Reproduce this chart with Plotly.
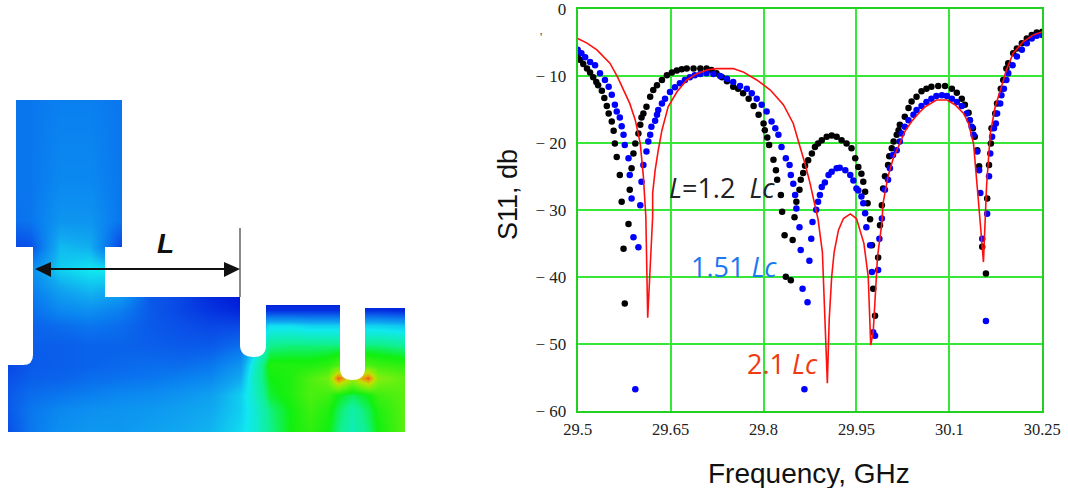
import plotly.graph_objects as go

# ---------- S11 chart data ----------
black_f = [29.500,29.504,29.509,29.515,29.520,29.525,29.530,29.533,29.539,29.543,29.547,29.550,29.555,29.558,29.560,29.563,29.568,29.571,29.574,29.576,
29.582,29.584,29.587,29.590,29.593,29.598,29.601,29.603,29.606,29.611,29.617,29.622,29.628,29.636,29.644,29.652,29.660,29.668,29.676,29.687,29.698,29.708,29.716,29.724,29.733,29.741,29.751,29.759,29.767,29.776,29.784,29.792,29.800,29.802,29.806,29.809,29.816,29.820,29.822,29.828,29.830,29.834,29.836,
29.844,29.847,29.850,29.853,29.858,29.860,29.864,29.867,29.872,29.878,29.883,29.888,29.894,29.902,29.910,29.918,29.926,29.934,29.942,29.948,29.953,29.958,29.961,29.964,29.968,29.972,29.975,29.977,29.980,
29.985,29.988,29.991,29.993,29.996,30.001,30.003,30.007,30.010,30.015,30.018,30.020,30.028,30.034,30.039,30.047,30.055,30.063,30.071,30.082,30.093,30.104,30.112,30.120,30.125,30.131,30.133,30.138,30.141,30.145,30.148,30.153,30.159,
30.161,30.164,30.167,30.168,30.174,30.177,30.183,30.187,30.192,30.195,30.203,30.209,30.217,30.225,30.233,30.241,30.250]
black_s = [-7.1,-7.6,-8.2,-8.9,-9.5,-10.2,-10.9,-11.4,-12.2,-13.3,-14.5,-15.6,-16.8,-18.2,-20.1,-22.1,-24.8,-28.8,-35.8,-44.0,
-32.1,-27.0,-23.8,-21.6,-20.1,-18.6,-17.3,-16.2,-15.6,-14.6,-13.1,-12.1,-11.4,-10.6,-9.9,-9.5,-9.2,-9.0,-8.9,-8.9,-8.9,-8.9,-9.1,-9.6,-10.2,-10.8,-11.6,-11.9,-12.6,-13.4,-14.5,-15.8,-17.1,-18.1,-19.2,-20.3,-22.5,-24.1,-25.5,-27.8,-30.3,-33.8,-40.0,
-40.5,-34.5,-31.1,-28.8,-27.0,-25.5,-24.5,-23.4,-22.6,-21.6,-20.6,-20.1,-19.6,-19.1,-18.9,-19.1,-19.6,-20.1,-20.8,-22.3,-23.6,-24.6,-25.8,-27.3,-29.0,-31.4,-35.3,-41.8,-45.8,
-37.1,-32.3,-29.3,-26.8,-25.0,-23.3,-22.0,-20.8,-19.8,-18.8,-18.1,-17.3,-16.1,-14.8,-13.8,-13.1,-12.3,-11.9,-11.6,-11.5,-11.5,-11.9,-12.5,-13.4,-14.3,-15.5,-16.6,-17.8,-19.1,-21.1,-23.5,-35.5,-39.5,
-28.3,-23.3,-20.1,-17.8,-15.6,-14.1,-11.9,-10.6,-8.9,-8.1,-6.6,-5.9,-5.1,-4.4,-3.9,-3.5,-3.4]

blue_f = [29.500,29.506,29.512,29.520,29.528,29.536,29.544,29.550,29.555,29.560,29.563,29.568,29.571,29.574,29.576,29.582,29.584,29.587,29.590,29.593,
29.598,29.601,29.603,29.606,29.611,29.614,29.617,29.619,29.625,29.628,29.630,29.636,29.641,29.649,29.657,29.665,29.673,29.681,29.689,29.698,29.708,29.719,29.730,29.741,29.751,29.762,29.773,29.781,29.789,29.797,29.805,29.813,29.819,29.824,29.829,29.836,29.842,29.844,29.848,29.851,29.853,29.858,29.860,29.863,29.866,
29.871,29.874,29.877,29.879,29.885,29.888,29.891,29.894,29.899,29.905,29.910,29.918,29.923,29.932,29.940,29.945,29.950,29.953,29.958,29.961,29.964,29.966,29.972,29.975,29.977,29.980,
29.985,29.987,29.991,29.996,30.001,30.004,30.009,30.015,30.020,30.023,30.028,30.034,30.042,30.047,30.055,30.063,30.071,30.079,30.088,30.096,30.104,30.112,30.120,30.128,30.133,30.136,30.139,30.145,30.148,30.150,30.153,30.159,
30.161,30.164,30.166,30.169,30.172,30.175,30.177,30.182,30.184,30.188,30.192,30.195,30.202,30.209,30.217,30.225,30.233,30.241,30.250]
blue_s = [-6.1,-6.6,-7.2,-7.9,-8.4,-9.6,-10.6,-11.6,-12.8,-14.3,-15.3,-16.2,-17.5,-18.8,-20.3,-22.3,-24.8,-28.3,-34.1,-56.8,
-35.6,-29.3,-25.8,-23.3,-21.3,-19.8,-18.8,-17.6,-16.7,-15.8,-15.1,-14.1,-13.4,-12.4,-11.7,-11.1,-10.6,-10.2,-9.9,-9.7,-9.6,-9.7,-10.0,-10.4,-10.9,-11.5,-11.9,-12.6,-13.4,-14.3,-15.3,-16.8,-17.8,-18.8,-20.6,-22.3,-23.3,-24.8,-26.1,-27.8,-29.8,-32.6,-36.0,-41.8,-56.8,
-43.8,-37.6,-34.3,-31.8,-30.0,-28.8,-27.8,-26.6,-25.9,-24.8,-24.3,-23.8,-23.7,-24.1,-24.8,-25.6,-26.8,-27.1,-28.0,-29.0,-30.5,-32.6,-35.3,-39.3,-48.3,-48.8,
-39.0,-34.3,-31.3,-27.0,-25.5,-23.8,-21.8,-21.1,-19.8,-18.6,-17.6,-16.6,-15.8,-15.1,-14.5,-13.9,-13.4,-13.0,-12.9,-13.0,-13.4,-13.9,-14.5,-15.6,-16.6,-17.6,-18.8,-21.3,-24.1,-27.5,-34.3,-46.6,
-30.6,-25.0,-21.6,-19.1,-17.8,-17.1,-15.6,-14.1,-12.9,-11.9,-10.6,-9.6,-8.4,-7.1,-6.1,-5.1,-4.4,-4.0,-3.9]

red_f = [29.500,29.515,29.531,29.544,29.552,29.564,29.576,29.584,29.593,29.601,29.606,29.610,29.613,29.621,29.621,29.625,29.630,29.636,29.646,29.660,29.676,29.692,29.708,29.724,29.751,29.767,29.789,29.811,29.832,29.848,29.859,29.867,29.875,29.883,29.888,29.895,29.898,29.903,29.906,29.910,29.914,29.921,29.929,29.940,29.950,29.956,29.962,29.969,29.973,29.977,29.982,29.984,29.991,29.993,30.001,30.010,30.020,30.028,30.039,30.050,30.061,30.069,30.079,30.096,30.109,30.123,30.131,30.139,30.144,30.149,30.155,30.157,30.160,30.166,30.174,30.184,30.192,30.203,30.219,30.235,30.250]
red_s = [-4.4,-5.1,-6.1,-7.4,-8.1,-10.1,-12.4,-14.1,-16.6,-20.1,-25.0,-31.0,-46.1,-31.0,-27.5,-24.1,-21.1,-18.1,-14.6,-12.4,-10.6,-9.7,-9.1,-8.9,-8.9,-9.4,-10.6,-12.1,-14.3,-17.1,-20.6,-23.1,-26.0,-29.5,-31.4,-36.3,-44.9,-55.9,-46.4,-40.0,-36.3,-33.0,-31.3,-30.6,-31.3,-33.0,-35.0,-40.0,-50.2,-48.3,-40.0,-37.0,-32.0,-29.0,-25.0,-22.1,-20.1,-18.3,-16.8,-15.6,-14.6,-14.1,-13.6,-13.6,-14.3,-15.6,-17.1,-20.1,-25.0,-31.0,-37.8,-33.0,-26.5,-18.6,-14.6,-11.6,-9.1,-6.6,-4.9,-3.9,-3.4]

x_ticks = [29.5, 29.65, 29.8, 29.95, 30.1, 30.25]
x_labels = ["29.5", "29.65", "29.8", "29.95", "30.1", "30.25"]
y_ticks = [0, -10, -20, -30, -40, -50, -60]
y_labels = ["0", "− 10", "− 20", "− 30", "− 40", "− 50", "− 60"]

# ---------- field picture data (relative field strength) ----------
field_x = [8,30,60,90,120,150,180,210,240,255,270,290,310,328,338,352,368,378,405]
field_y = [100,140,180,220,247,270,297,310,325,345,365,378,395,410,432]
field_z = [
 [.20,.20,.22,.22,.20,.20,.20,.20,.20,.30,.30,.30,.30,.30,.30,.30,.30,.30,.30],
 [.20,.20,.23,.23,.20,.20,.20,.20,.20,.30,.30,.30,.30,.30,.30,.30,.30,.30,.30],
 [.20,.20,.24,.24,.20,.20,.20,.20,.20,.30,.30,.30,.30,.30,.30,.30,.30,.30,.30],
 [.18,.20,.27,.27,.20,.20,.20,.20,.20,.20,.20,.20,.20,.20,.20,.20,.20,.20,.20],
 [.10,.12,.35,.33,.10,.10,.10,.10,.10,.10,.10,.10,.10,.10,.10,.10,.10,.10,.10],
 [.20,.25,.38,.42,.42,.30,.20,.20,.10,.05,.05,.05,.05,.05,.05,.05,.05,.05,.05],
 [.20,.20,.28,.32,.28,.14,.10,.04,.00,.00,.00,.00,.00,.00,.00,.00,.00,.00,.00],
 [.18,.18,.24,.26,.22,.14,.10,.06,.03,.05,.05,.05,.05,.05,.05,.05,.05,.05,.03],
 [.15,.16,.18,.20,.18,.14,.12,.10,.10,.30,.40,.40,.38,.38,.38,.38,.38,.38,.36],
 [.14,.15,.15,.16,.16,.15,.14,.14,.18,.38,.55,.56,.56,.56,.56,.56,.56,.56,.54],
 [.10,.14,.15,.16,.17,.18,.18,.20,.27,.48,.64,.64,.64,.66,.70,.70,.70,.68,.66],
 [.12,.15,.16,.18,.19,.20,.22,.24,.32,.50,.62,.64,.70,.75,.97,.82,.97,.78,.72],
 [.14,.18,.20,.22,.24,.25,.27,.30,.38,.48,.60,.64,.70,.68,.62,.58,.62,.68,.72],
 [.14,.20,.24,.26,.27,.28,.30,.32,.38,.46,.56,.62,.68,.64,.58,.52,.58,.64,.72],
 [.12,.20,.26,.28,.28,.30,.32,.34,.40,.46,.55,.62,.66,.62,.56,.50,.56,.62,.72],
]

W, H = 1068, 488
def px(x): return x / W
def py(y): return 1 - y / H

field_scale = [[0,"#0018d8"],[.12,"#0a50e8"],[.22,"#0a80f0"],[.32,"#10a8f0"],[.42,"#10e8f0"],
               [.55,"#10f090"],[.62,"#10f010"],[.75,"#70f010"],[.85,"#c0e000"],[.93,"#f09010"],[1,"#e04010"]]

fig = go.Figure()
fig.add_trace(go.Heatmap(x=field_x, y=field_y, z=field_z, xaxis="x2", yaxis="y2", zmin=0, zmax=1,
                         zsmooth="best", colorscale=field_scale, showscale=False, hoverinfo="skip"))
fig.add_trace(go.Scatter(x=black_f, y=black_s, mode="markers", marker=dict(color="#000000", size=6.5), name="L=1.2 Lc"))
fig.add_trace(go.Scatter(x=blue_f, y=blue_s, mode="markers", marker=dict(color="#0000ff", size=6.5), name="1.51 Lc"))
fig.add_trace(go.Scatter(x=red_f, y=red_s, mode="lines", line=dict(color="#ff1010", width=1.6), name="2.1 Lc"))

white = dict(type="path", xref="x2", yref="y2", fillcolor="#ffffff", line=dict(width=0), layer="above")
masks = [
 "M 122 99 L 406 99 L 406 305 L 240 297 L 105 297 L 105 247 L 122 247 Z",
 "M 240 296 L 266 296 L 266 345 Q 266 357 254 357 Q 240 357 240 345 Z",
 "M 240 296 L 406 296 L 406 308 L 341 308 L 341 305 L 240 305 Z",
 "M 340 300 L 365 300 L 365 368 Q 365 380 352 380 Q 340 380 340 368 Z",
 "M 7 99 L 16 99 L 16 247 L 33 247 L 33 355 Q 33 365 23 365 L 7 365 Z",
]
shapes = [dict(white, path=p) for p in masks]
shapes += [
 dict(type="line", xref="x2", yref="y2", x0=240, x1=240, y0=228, y1=297, line=dict(color="#8a8a8a", width=2), layer="above"),
 dict(type="line", xref="x2", yref="y2", x0=40, x1=232, y0=269, y1=269, line=dict(color="#111111", width=2), layer="above"),
 dict(type="path", xref="x2", yref="y2", path="M 35 269 L 51 262 L 51 277 Z", fillcolor="#111111", line=dict(width=0), layer="above"),
 dict(type="path", xref="x2", yref="y2", path="M 240 269 L 224 262 L 224 277 Z", fillcolor="#111111", line=dict(width=0), layer="above"),
]

serif = "Liberation Serif"
sans = "Open Sans"
def note(x, y, text, color, size=27, font=sans, **kw):
    return dict(x=px(x), y=py(y), xref="paper", yref="paper", xanchor="center", yanchor="middle",
                text=text, showarrow=False, font=dict(family=font, size=size, color=color), **kw)

annotations = [
 note(165, 243, "<b><i>L</i></b>", "#111111", size=28, font="Liberation Sans"),
 note(722, 187, "<i>L</i>=1.2  <i>Lc</i>", "#222222"),
 note(734, 266, "1.51 <i>Lc</i>", "#1a78f0"),
 note(782, 363, "2.1 <i>Lc</i>", "#f03a10"),
 note(541, 37, "'", "#333333", size=12, font=serif),
 note(808.5, 473, "Frequency, GHz", "#111111", size=28, font="Liberation Sans"),
 note(508, 195, "S11, db", "#111111", size=27, font="Liberation Sans", textangle=-90),
]

fig.update_layout(
    width=W, height=H, autosize=False, showlegend=False, plot_bgcolor="#ffffff", paper_bgcolor="#ffffff",
    margin=dict(l=0, r=0, t=0, b=0), shapes=shapes, annotations=annotations,
    xaxis=dict(domain=[px(577.7), px(1042.3)], range=[29.5, 30.25], tickmode="array", tickvals=x_ticks, ticktext=x_labels,
               tickfont=dict(family=serif, size=16.5, color="#222222"), showgrid=True, gridcolor="#38e838", gridwidth=1.5,
               zeroline=False, showline=True, linecolor="#22d022", linewidth=2, mirror=True, ticks="", ticklabelstandoff=2,
               ticklabeloverflow="allow", automargin=False),
    yaxis=dict(domain=[py(410.7), py(9)], range=[-60, 0], tickmode="array", tickvals=y_ticks, ticktext=y_labels,
               tickfont=dict(family=serif, size=17, color="#222222"), showgrid=True, gridcolor="#38e838", gridwidth=1.5,
               zeroline=False, showline=True, linecolor="#22d022", linewidth=2, mirror=True, ticks="", ticklabelstandoff=6,
               ticklabeloverflow="allow", automargin=False),
    xaxis2=dict(domain=[px(8), px(405)], range=[8, 405], anchor="y2", visible=False, automargin=False),
    yaxis2=dict(domain=[py(432), py(100)], range=[432, 100], anchor="x2", visible=False, automargin=False),
)
fig.write_html("out.html", config={"displayModeBar": False}, post_script="document.body.style.margin='0';")
